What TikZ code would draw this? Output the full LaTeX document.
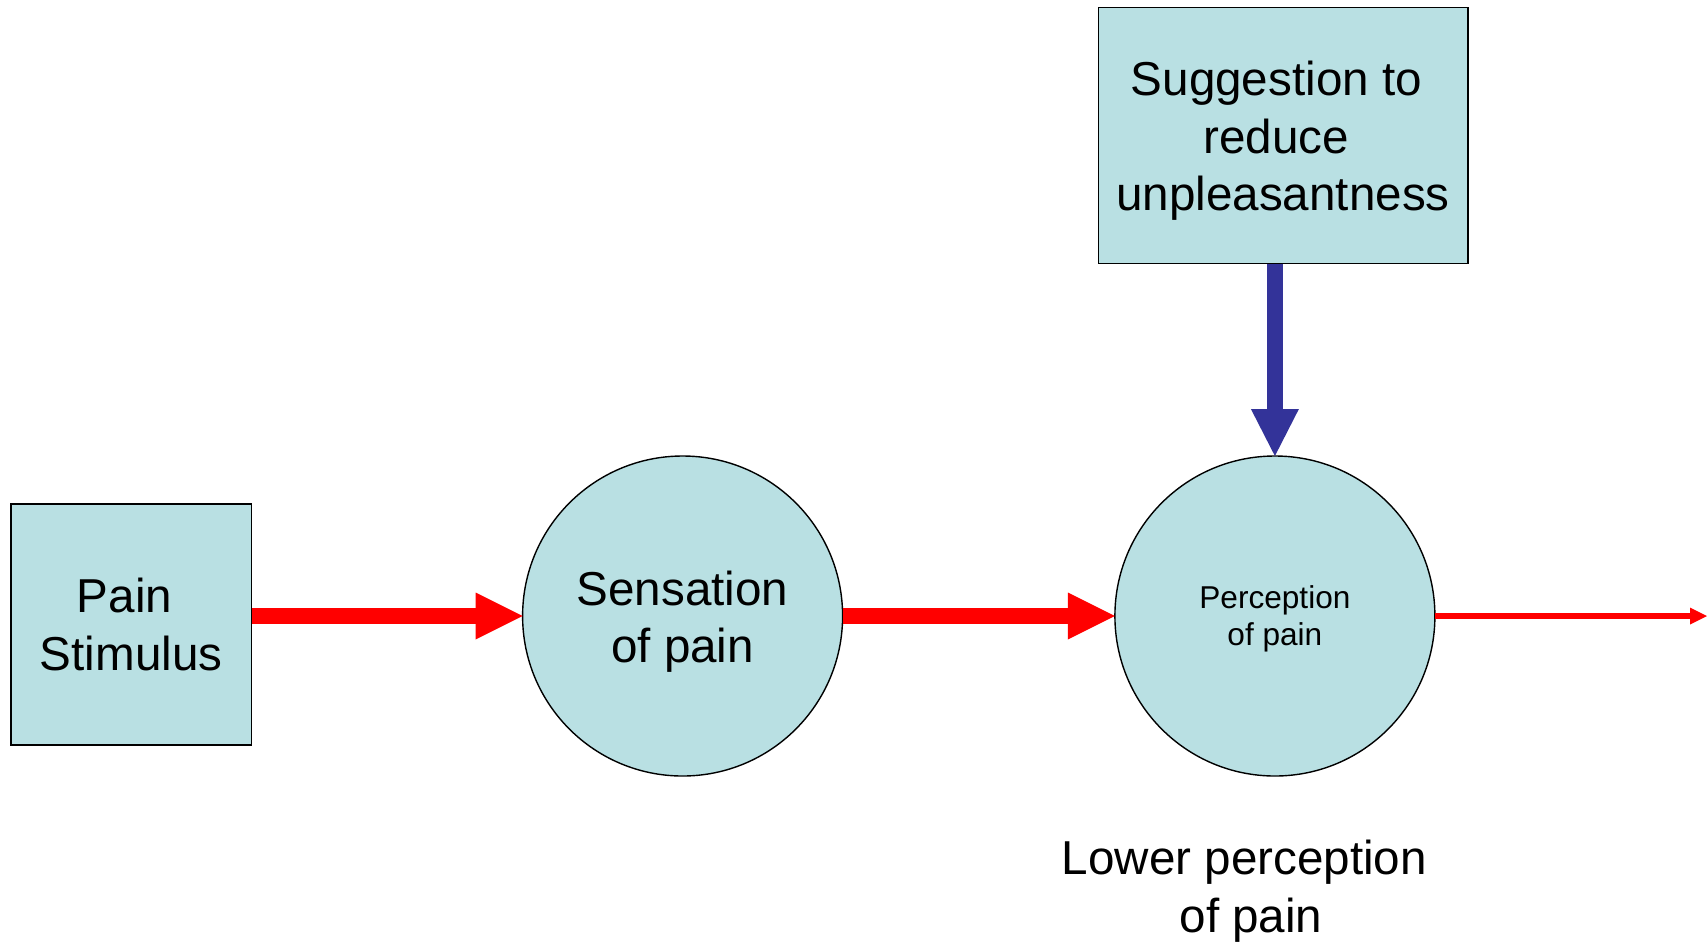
\documentclass[tikz,border=0pt]{standalone}
\usepackage{fontspec}
\setmainfont{Liberation Sans}
\usetikzlibrary{arrows.meta}
\definecolor{boxfill}{RGB}{185,224,227}
\definecolor{sugblue}{RGB}{51,51,153}
\definecolor{flowred}{RGB}{255,0,0}
% a line ending in a trailing word space
\newcommand{\trailsp}[1]{\hbox{#1\kern0.278em}}
\tikzset{
  bigtext/.style={font=\fontsize{23.8}{28.75}\selectfont, align=center},
  smalltext/.style={font=\fontsize{15.8}{18.6}\selectfont, align=center},
  squarebox/.style={draw=black, line width=0.9pt, fill=boxfill, inner sep=0pt, outer sep=0pt},
  roundstate/.style={circle, draw=black, line width=0.7pt, fill=boxfill, inner sep=0pt, outer sep=0pt, minimum size=160pt},
  flowarrow/.style={draw=flowred, line width=7.8pt, -{Triangle[length=23.5pt,width=23.5pt,line width=0pt]}},
  thinarrow/.style={draw=flowred, line width=3pt, -{Triangle[length=8.5pt,width=8.5pt,line width=0pt]}},
  suggarrow/.style={draw=sugblue, line width=8pt, -{Triangle[length=23.5pt,width=24pt,line width=0pt]}}
}
\begin{document}
\begin{tikzpicture}[x=0.5pt, y=-0.5pt]
  \useasboundingbox (0,0) rectangle (1707,943);

  % stimulus and suggestion boxes
  \node[squarebox, minimum width=120.3pt, minimum height=120.3pt] (stim) at (131.2,624.4) {};
  \node[squarebox, minimum width=184.6pt, minimum height=128pt] (sugg) at (1283,135.5) {};

  % sensation and perception states
  \node[roundstate] (sens) at (682.6,616) {};
  \node[roundstate] (perc) at (1274.9,616) {};

  % texts set into the shapes
  \node[bigtext] (stimtext) at (stim.center) {\trailsp{Pain}\\Stimulus};
  \node[bigtext] (suggtext) at ([yshift=-2.75pt]sugg.center) {\trailsp{Suggestion to}\\\trailsp{reduce}\\unpleasantness};
  \node[bigtext] (senstext) at ([yshift=-2.75pt]sens.center) {Sensation\\of pain};
  \node[smalltext] (perctext) at ([yshift=-1.6pt]perc.center) {Perception\\of pain};

  % outcome label
  \node[bigtext] (lower) at (1251,891) {\trailsp{Lower perception}\\of pain};

  \coordinate (outend) at (1707,616);

  % connectors
  \draw[flowarrow] (stim.east |- sens.center) -- (sens.west);
  \draw[flowarrow] (sens.east) -- (perc.west);
  \draw[thinarrow] (perc.east) -- (outend);
  \draw[suggarrow] (sugg.south -| perc.north) -- (perc.north);
\end{tikzpicture}
\end{document}
